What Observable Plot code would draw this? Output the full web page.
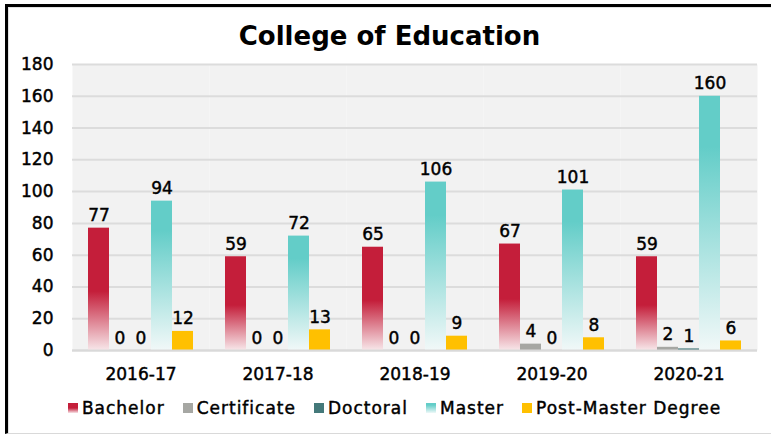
<!DOCTYPE html>
<html>
<head>
<meta charset="utf-8">
<script src="https://cdn.jsdelivr.net/npm/d3@7"></script>
<script src="https://cdn.jsdelivr.net/npm/@observablehq/plot@0.6"></script>
<style>
  html, body { margin: 0; padding: 0; background: #fff; }
  body { width: 771px; height: 435px; position: relative; overflow: hidden; font-family: "DejaVu Sans", sans-serif; color: #000; }
  #border { position: absolute; left: 5px; top: 4px; width: 820px; height: 426px; border-top: 3px solid #000; border-left: 3px solid #000; border-bottom: 1px solid #d9d9d9; box-shadow: inset 1px 1px 0 #e2e2e2; }
  #title { position: absolute; left: 4px; width: 771px; top: 20px; text-align: center; font-weight: bold; font-size: 26px; line-height: 32px; }
  #chart { position: absolute; left: 0; top: 0; }
  #chart svg text { font-size: 17px; stroke: #000; stroke-width: 0.45px; }
  #legend { position: absolute; left: 0; width: 771px; top: 398px; display: flex; justify-content: center; padding-left: 18px; box-sizing: border-box; font-size: 17px; letter-spacing: 1px; line-height: 20px; -webkit-text-stroke: 0.45px #000; }
  .item { display: flex; align-items: center; margin: 0 9px; white-space: nowrap; }
  .sw { width: 10px; height: 10px; margin-right: 4px; flex: none; }
</style>
</head>
<body>
<div id="border"></div>
<div id="title">College of Education</div>
<div id="chart"></div>
<div id="legend"></div>
<script>
const years = ["2016-17", "2017-18", "2018-19", "2019-20", "2020-21"];
const series = ["Bachelor", "Certificate", "Doctoral", "Master", "Post-Master Degree"];
const bachelor = [77, 59, 65, 67, 59];
const certificate = [0, 0, 0, 4, 2];
const doctoral = [0, 0, 0, 0, 1];
const master = [94, 72, 106, 101, 160];
const postMaster = [12, 13, 9, 8, 6];
const yTicks = [0, 20, 40, 60, 80, 100, 120, 140, 160, 180];

const seriesValues = [bachelor, certificate, doctoral, master, postMaster];
const seriesFill = ["url(#gBachelor)", "#a6a7a3", "#44797a", "url(#gMaster)", "#ffc000"];
const legendFill = [
  "linear-gradient(#c41e3a 0%, #c41e3a 50%, #f7e3e7 100%)",
  "#a6a7a3", "#44797a",
  "linear-gradient(#63cdc8 0%, #63cdc8 20%, #eef8f8 100%)",
  "#ffc000"
];

const data = [];
years.forEach((year, i) => {
  series.forEach((s, j) => data.push({year, series: s, value: seriesValues[j][i]}));
});

const chart = Plot.plot({
  width: 771,
  height: 395,
  marginLeft: 72,
  marginRight: 14,
  marginTop: 64,
  marginBottom: 45,
  style: {fontFamily: "DejaVu Sans, sans-serif", fontSize: "17px", color: "#000", background: "transparent", overflow: "visible"},
  fx: {domain: years, padding: 0, label: null, axis: "bottom", tickSize: 0, tickPadding: 17},
  x: {domain: series, paddingInner: 0, paddingOuter: 0.76, axis: null},
  y: {domain: [0, 180], ticks: yTicks, tickSize: 0, tickPadding: 19, label: null, tickFormat: d => d},
  color: {domain: series, range: seriesFill},
  marks: [
    Plot.frame({fill: "#f2f2f2", stroke: null}),
    Plot.ruleY(yTicks, {stroke: "#dcdcdc", strokeWidth: 2}),
    Plot.barY(data, {fx: "year", x: "series", y: "value", fill: "series", inset: 0}),
    Plot.ruleY([0], {stroke: "#d9d9d9", strokeWidth: 2}),
    Plot.text(data, {fx: "year", x: "series", y: "value", text: d => String(d.value), lineAnchor: "bottom", dy: -7, fontSize: 17, fill: "#000"})
  ]
});

d3.select(chart).insert("defs", ":first-child").html(`
  <linearGradient id="gBachelor" x1="0" y1="0" x2="0" y2="1">
    <stop offset="0" stop-color="#c41e3a"/>
    <stop offset="0.52" stop-color="#c41e3a"/>
    <stop offset="1" stop-color="#f7e6e9"/>
  </linearGradient>
  <linearGradient id="gMaster" x1="0" y1="0" x2="0" y2="1">
    <stop offset="0" stop-color="#63cdc8"/>
    <stop offset="0.2" stop-color="#63cdc8"/>
    <stop offset="1" stop-color="#f1f8f8"/>
  </linearGradient>`);

document.getElementById("chart").appendChild(chart);

const legend = d3.select("#legend");
series.forEach((s, j) => {
  const item = legend.append("div").attr("class", "item");
  item.append("div").attr("class", "sw").style("background", legendFill[j]);
  item.append("span").text(s);
});
</script>
</body>
</html>
